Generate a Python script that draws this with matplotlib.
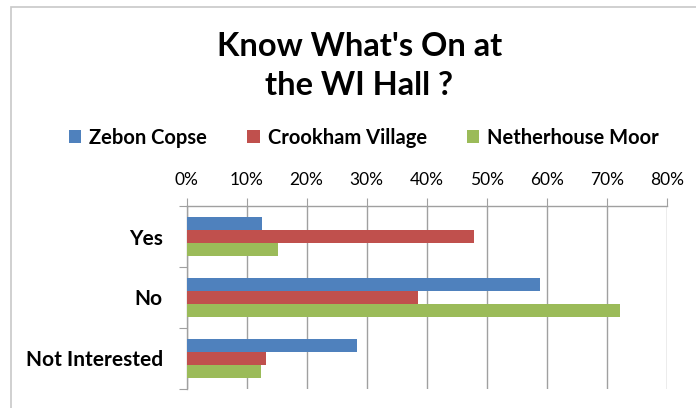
import matplotlib
matplotlib.use("Agg")
import matplotlib.pyplot as plt
import numpy as np
from matplotlib.patches import Rectangle
from matplotlib.ticker import FuncFormatter

categories = ["Yes", "No", "Not Interested"]
series_names = ["Zebon Copse", "Crookham Village", "Netherhouse Moor"]
zebon = [12.5, 58.8, 28.4]
crookham = [47.9, 38.6, 13.2]
netherhouse = [15.2, 72.2, 12.4]
colors = ["#4F81BD", "#C0504D", "#9BBB59"]
x_ticks = [0, 10, 20, 30, 40, 50, 60, 70, 80]

plt.rcParams['font.family'] = ['Lato', 'DejaVu Sans']

fig = plt.figure(figsize=(6.96, 4.08), dpi=100)
ax = fig.add_axes([0.268, 0.047, 0.69, 0.448])

y = np.arange(len(categories))
h = 0.213
for i, (vals, c) in enumerate(zip([zebon, crookham, netherhouse], colors)):
    ax.barh(y + (i - 1) * h, vals, height=h, color=c, label=series_names[i], zorder=3)

ax.set_xlim(0, 80)
ax.set_ylim(2.5, -0.5)
ax.set_xticks(x_ticks)
ax.xaxis.set_major_formatter(FuncFormatter(lambda v, p: f"{int(v)}%"))
ax.xaxis.tick_top()
ax.tick_params(axis='x', direction='out', length=6, color='#a0a0a0', labelsize=12.5, pad=7)
ax.grid(axis='x', color='#a0a0a0', linewidth=1, zorder=0)

ax.set_yticks([-0.5, 0.5, 1.5, 2.5])
ax.set_yticklabels([])
ax.tick_params(axis='y', which='major', direction='out', length=6, color='#a0a0a0')
ax.set_yticks(y, minor=True)
ax.set_yticklabels(categories, minor=True, fontsize=15, fontweight='bold')
ax.tick_params(axis='y', which='minor', length=0, pad=17)

for s in ['right', 'bottom']:
    ax.spines[s].set_visible(False)
for s in ['top', 'left']:
    ax.spines[s].set_color('#a0a0a0')
    ax.spines[s].set_linewidth(1)

fig.text(0.516, 0.838, "Know What's On at\nthe WI Hall ?", ha='center', va='center',
         fontsize=23.5, fontweight='bold', linespacing=1.45)

fig.legend(loc='center', bbox_to_anchor=(0.523, 0.662), ncol=3, frameon=False,
           prop={'weight': 'bold', 'size': 14.5}, handlelength=0.6, handleheight=0.6,
           handletextpad=0.4, columnspacing=2.0)

fig.patches.append(Rectangle((11/696, -0.1), 1.2, 1 - 6.7/408 + 0.1, transform=fig.transFigure,
                             fill=False, edgecolor='#c8c8c8', linewidth=1.2))

fig.savefig("out.png", dpi=100)
